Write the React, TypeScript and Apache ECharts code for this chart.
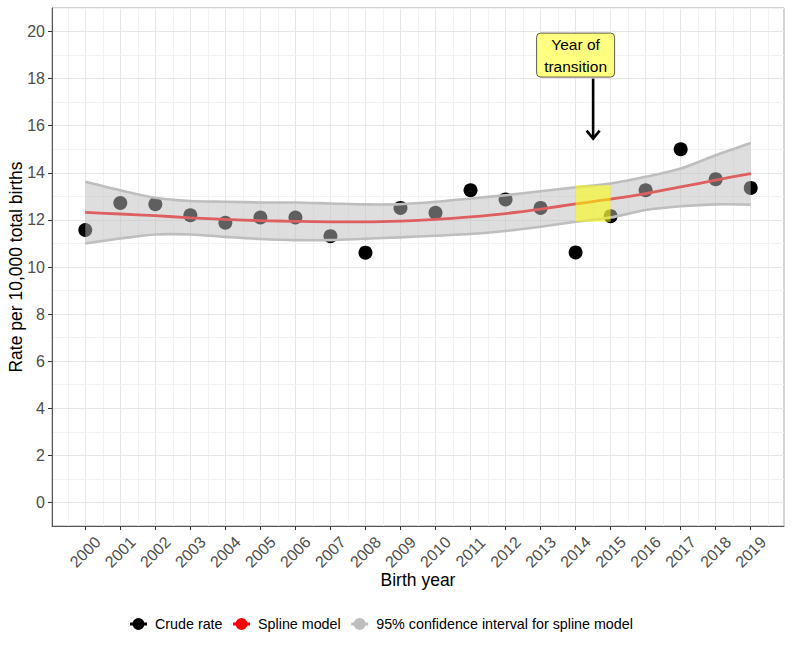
import React, { useEffect, useRef } from 'react';
import * as echarts from 'echarts';

const years = [2000, 2001, 2002, 2003, 2004, 2005, 2006, 2007, 2008, 2009, 2010, 2011, 2012, 2013, 2014, 2015, 2016, 2017, 2018, 2019];
const crudeRate = [11.57, 12.72, 12.67, 12.2, 11.88, 12.1, 12.1, 11.31, 10.61, 12.51, 12.3, 13.26, 12.87, 12.51, 10.62, 12.16, 13.26, 15.0, 13.73, 13.36];
const splineRate = [12.32, 12.25, 12.18, 12.09, 12.02, 11.97, 11.94, 11.92, 11.92, 11.95, 12.02, 12.13, 12.27, 12.46, 12.68, 12.88, 13.12, 13.4, 13.69, 13.97];
const ciUpper = [13.62, 13.26, 12.94, 12.8, 12.77, 12.74, 12.74, 12.7, 12.66, 12.67, 12.77, 12.91, 13.05, 13.22, 13.38, 13.55, 13.83, 14.18, 14.75, 15.27];
const ciLower = [11.0, 11.21, 11.38, 11.38, 11.28, 11.19, 11.14, 11.14, 11.2, 11.26, 11.33, 11.4, 11.53, 11.71, 11.92, 12.1, 12.42, 12.58, 12.66, 12.65];
const yTicks = [0, 2, 4, 6, 8, 10, 12, 14, 16, 18, 20];
const yGrid = [-1, 0, 1, 2, 3, 4, 5, 6, 7, 8, 9, 10, 11, 12, 13, 14, 15, 16, 17, 18, 19, 20, 21];
const transitionX = [2014, 2015];
const transitionY = [11.92, 13.47];
const labelPoint = [2014, 19];
const labelText = 'Year of\ntransition';
const arrowX = 2014.5;
const arrowY = [18, 15.45];

const FONT = '"Liberation Sans", Arial, Helvetica, sans-serif';
const LEGEND_ICON = 'path://M0,4.5H17V7.5H0Z M14.5,6A6,6 0 1 1 2.5,6A6,6 0 1 1 14.5,6Z';
const SMOOTH = 0.3;

export default function App() {
  const ref = useRef<HTMLDivElement>(null);

  useEffect(() => {
    if (!ref.current) return;
    const chart = echarts.init(ref.current, null, { renderer: 'svg' });

    const xMinor = [years[0] - 0.5, ...years.map((y) => y + 0.5)];
    const gridLines: any[] = [];
    xMinor.forEach((v) => gridLines.push({ xAxis: v, lineStyle: { color: '#f2f2f2', width: 1, type: 'solid' } }));
    years.forEach((v) => gridLines.push({ xAxis: v, lineStyle: { color: '#e6e6e6', width: 1, type: 'solid' } }));
    yGrid.forEach((v) => {
      const major = yTicks.indexOf(v) >= 0;
      gridLines.push({ yAxis: v, lineStyle: { color: major ? '#e6e6e6' : '#f2f2f2', width: 1, type: 'solid' } });
    });

    const pts = (arr: number[]) => years.map((y, i) => [y, arr[i]]);

    chart.setOption({
      animation: false,
      textStyle: { fontFamily: FONT },
      grid: {
        left: 52, top: 8, right: 8, bottom: 126,
        outerBoundsMode: 'none', containLabel: false,
        show: true, borderColor: '#a8a8a8', borderWidth: 1, backgroundColor: 'transparent',
      },
      xAxis: {
        type: 'value', min: 1999.05, max: 2019.95,
        name: 'Birth year', nameLocation: 'middle', nameGap: 45, nameMoveOverlap: false,
        nameTextStyle: { fontSize: 17.5, color: '#000', fontFamily: FONT },
        axisLine: { show: true, onZero: false, lineStyle: { color: '#555', width: 1 } },
        axisTick: { show: true, length: 4, customValues: years, lineStyle: { color: '#333', width: 1 } },
        axisLabel: {
          customValues: years, rotate: 45, align: 'center', verticalAlign: 'middle', margin: 26,
          fontSize: 16, color: '#4d4d4d', fontFamily: FONT,
          formatter: (v: number) => String(Math.round(v)),
        },
        splitLine: { show: false },
      },
      yAxis: {
        type: 'value', min: -1, max: 21,
        name: 'Rate per 10,000 total births', nameLocation: 'middle', nameGap: 27, nameRotate: 90,
        nameMoveOverlap: false,
        nameTextStyle: { fontSize: 17.5, color: '#000', fontFamily: FONT },
        axisLine: { show: true, onZero: false, lineStyle: { color: '#555', width: 1 } },
        axisTick: { show: true, length: 4, customValues: yTicks, lineStyle: { color: '#333', width: 1 } },
        axisLabel: {
          customValues: yTicks, margin: 7, fontSize: 16, color: '#4d4d4d', fontFamily: FONT,
        },
        splitLine: { show: false },
      },
      legend: {
        left: 130, top: 617, orient: 'horizontal', padding: 0,
        itemWidth: 17, itemHeight: 12, itemGap: 10.5,
        icon: LEGEND_ICON,
        textStyle: { fontSize: 14.3, color: '#000', fontFamily: FONT, padding: [0, 0, 0, 3] },
        data: [
          { name: 'Crude rate', itemStyle: { color: '#000000' } },
          { name: 'Spline model', itemStyle: { color: '#ff0000' } },
          { name: '95% confidence interval for spline model', itemStyle: { color: '#bebebe' } },
        ],
      },
      series: [
        {
          type: 'line', data: [], z: 0, silent: true,
          markLine: { z: 0, silent: true, symbol: ['none', 'none'], label: { show: false }, data: gridLines, animation: false },
        },
        {
          name: 'Crude rate', type: 'scatter', data: pts(crudeRate), symbolSize: 14, z: 2,
          itemStyle: { color: '#000', opacity: 1 },
        },
        {
          name: 'Spline model', type: 'line', data: pts(splineRate), smooth: SMOOTH, showSymbol: false, z: 3,
          lineStyle: { color: '#ff0000', width: 2.8 }, itemStyle: { color: '#ff0000' },
        },
        {
          name: '95% confidence interval for spline model',
          type: 'custom', z: 4, silent: true, clip: false,
          itemStyle: { color: '#bebebe' },
          data: [0],
          renderItem: (params: any, api: any) => {
            const up = years.map((y, i) => api.coord([y, ciUpper[i]]));
            const lo = years.map((y, i) => api.coord([y, ciLower[i]]));
            const n = up.length;
            const loRev = lo.slice().reverse();
            const poly = [up[0], ...up, up[n - 1], lo[n - 1], ...loRev, lo[0]];
            return {
              type: 'group',
              children: [
                {
                  type: 'polygon',
                  shape: { points: poly, smooth: SMOOTH },
                  style: { fill: 'rgba(190,190,190,0.5)', stroke: null },
                },
                {
                  type: 'polyline',
                  shape: { points: up, smooth: SMOOTH },
                  style: { fill: null, stroke: '#bebebe', lineWidth: 2.6 },
                },
                {
                  type: 'polyline',
                  shape: { points: lo, smooth: SMOOTH },
                  style: { fill: null, stroke: '#bebebe', lineWidth: 2.6 },
                },
              ],
            };
          },
        },
        {
          type: 'line', data: [], z: 6, silent: true,
          markArea: {
            z: 6,
            silent: true,
            itemStyle: { color: 'rgba(255,255,0,0.55)' },
            data: [[{ coord: [transitionX[0], transitionY[0]] }, { coord: [transitionX[1], transitionY[1]] }]],
          },
        },
        {
          type: 'custom', z: 7, silent: true, clip: false,
          data: [labelPoint],
          renderItem: (params: any, api: any) => {
            const c = api.coord([api.value(0), api.value(1)]);
            const a0 = api.coord([arrowX, arrowY[0]]);
            const a1 = api.coord([arrowX, arrowY[1]]);
            return {
              type: 'group',
              children: [
                {
                  type: 'rect',
                  shape: { x: c[0] - 39, y: c[1] - 22, width: 78, height: 44, r: 4 },
                  style: { fill: '#ffff80', stroke: '#333', lineWidth: 0.8 },
                },
                {
                  type: 'text',
                  style: {
                    text: labelText, x: c[0], y: c[1], align: 'center', verticalAlign: 'middle',
                    fontSize: 15.5, fontFamily: FONT, lineHeight: 22, fill: '#000',
                  },
                },
                {
                  type: 'line',
                  shape: { x1: a0[0], y1: a0[1], x2: a1[0], y2: a1[1] - 1 },
                  style: { stroke: '#000', lineWidth: 2.6 },
                },
                {
                  type: 'polyline',
                  shape: { points: [[a1[0] - 6.5, a1[1] - 8], [a1[0], a1[1]], [a1[0] + 6.5, a1[1] - 8]] },
                  style: { stroke: '#000', lineWidth: 2.6, fill: null },
                },
              ],
            };
          },
        },
      ],
    });

    return () => chart.dispose();
  }, []);

  return <div ref={ref} style={{ width: 792, height: 652, position: 'absolute', left: 0, top: 0 }} />;
}
